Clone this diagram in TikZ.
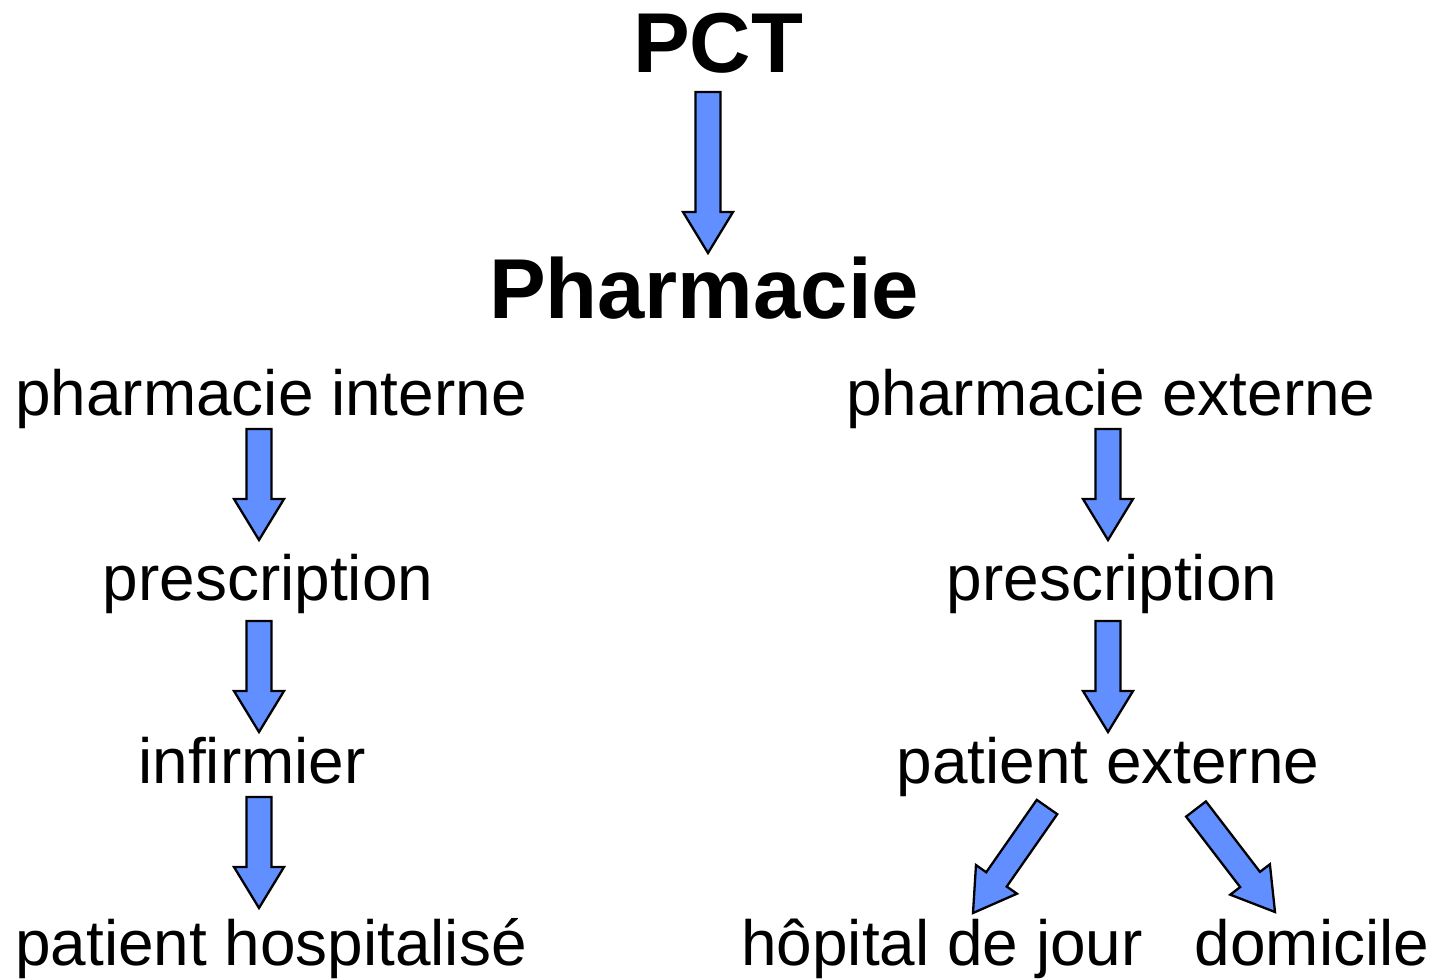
\documentclass[tikz,border=0pt]{standalone}
\usepackage{fontspec}
\setmainfont{Liberation Sans}
\usetikzlibrary{calc}
\definecolor{arrowblue}{RGB}{97,143,255}
\tikzset{
  lbl/.style={anchor=base,inner sep=0pt,font=\fontsize{63.9}{70}\selectfont},
  title/.style={anchor=base,inner sep=0pt,font=\fontsize{85}{92}\selectfont\bfseries},
  blockarrow/.style={fill=arrowblue,draw=black,line width=2.3pt,line join=miter}
}
\newcommand\blockarrow[2]{%
  \coordinate (h) at ($(#2)!41pt!(#1)$);
  \draw[blockarrow] ($(#1)!12.5pt!90:(#2)$) -- ($(h)!12.5pt!90:(#2)$) -- ($(h)!25pt!90:(#2)$) -- (#2)
    -- ($(h)!25pt!-90:(#2)$) -- ($(h)!12.5pt!-90:(#2)$) -- ($(#1)!12.5pt!-90:(#2)$) -- cycle;}
\begin{document}
\begin{tikzpicture}[x=1pt,y=-1pt]
\useasboundingbox (0,0) rectangle (1434,979);
\node[title] (pct) at (718,73) {PCT};
\node[title] (ph) at (704,318) {Pharmacie};
\node[lbl] (pi) at (271,415) {pharmacie interne};
\node[lbl] (pr1) at (268,600) {prescription};
\node[lbl] (inf) at (252,783) {infirmier};
\node[lbl] (ph1) at (271,965) {patient hospitalisé};
\node[lbl] (pe) at (1111,415) {pharmacie externe};
\node[lbl] (pr2) at (1112,600) {prescription};
\node[lbl] (pex) at (1108,783) {patient externe};
\node[lbl] (hj) at (942,965) {hôpital de jour};
\node[lbl] (dom) at (1312,965) {domicile};
\coordinate (a0s) at (708,92);  \coordinate (a0e) at (708,253);
\coordinate (a1s) at (259,429); \coordinate (a1e) at (259,540);
\coordinate (a2s) at (259,621); \coordinate (a2e) at (259,732);
\coordinate (a3s) at (259,797); \coordinate (a3e) at (259,908);
\coordinate (a4s) at (1108,429); \coordinate (a4e) at (1108,540);
\coordinate (a5s) at (1108,621); \coordinate (a5e) at (1108,732);
\coordinate (a6s) at (1047,807); \coordinate (a6e) at (973,913);
\coordinate (a7s) at (1196,809); \coordinate (a7e) at (1275,912);
\blockarrow{a0s}{a0e}
\blockarrow{a1s}{a1e}
\blockarrow{a2s}{a2e}
\blockarrow{a3s}{a3e}
\blockarrow{a4s}{a4e}
\blockarrow{a5s}{a5e}
\blockarrow{a6s}{a6e}
\blockarrow{a7s}{a7e}
\end{tikzpicture}
\end{document}
